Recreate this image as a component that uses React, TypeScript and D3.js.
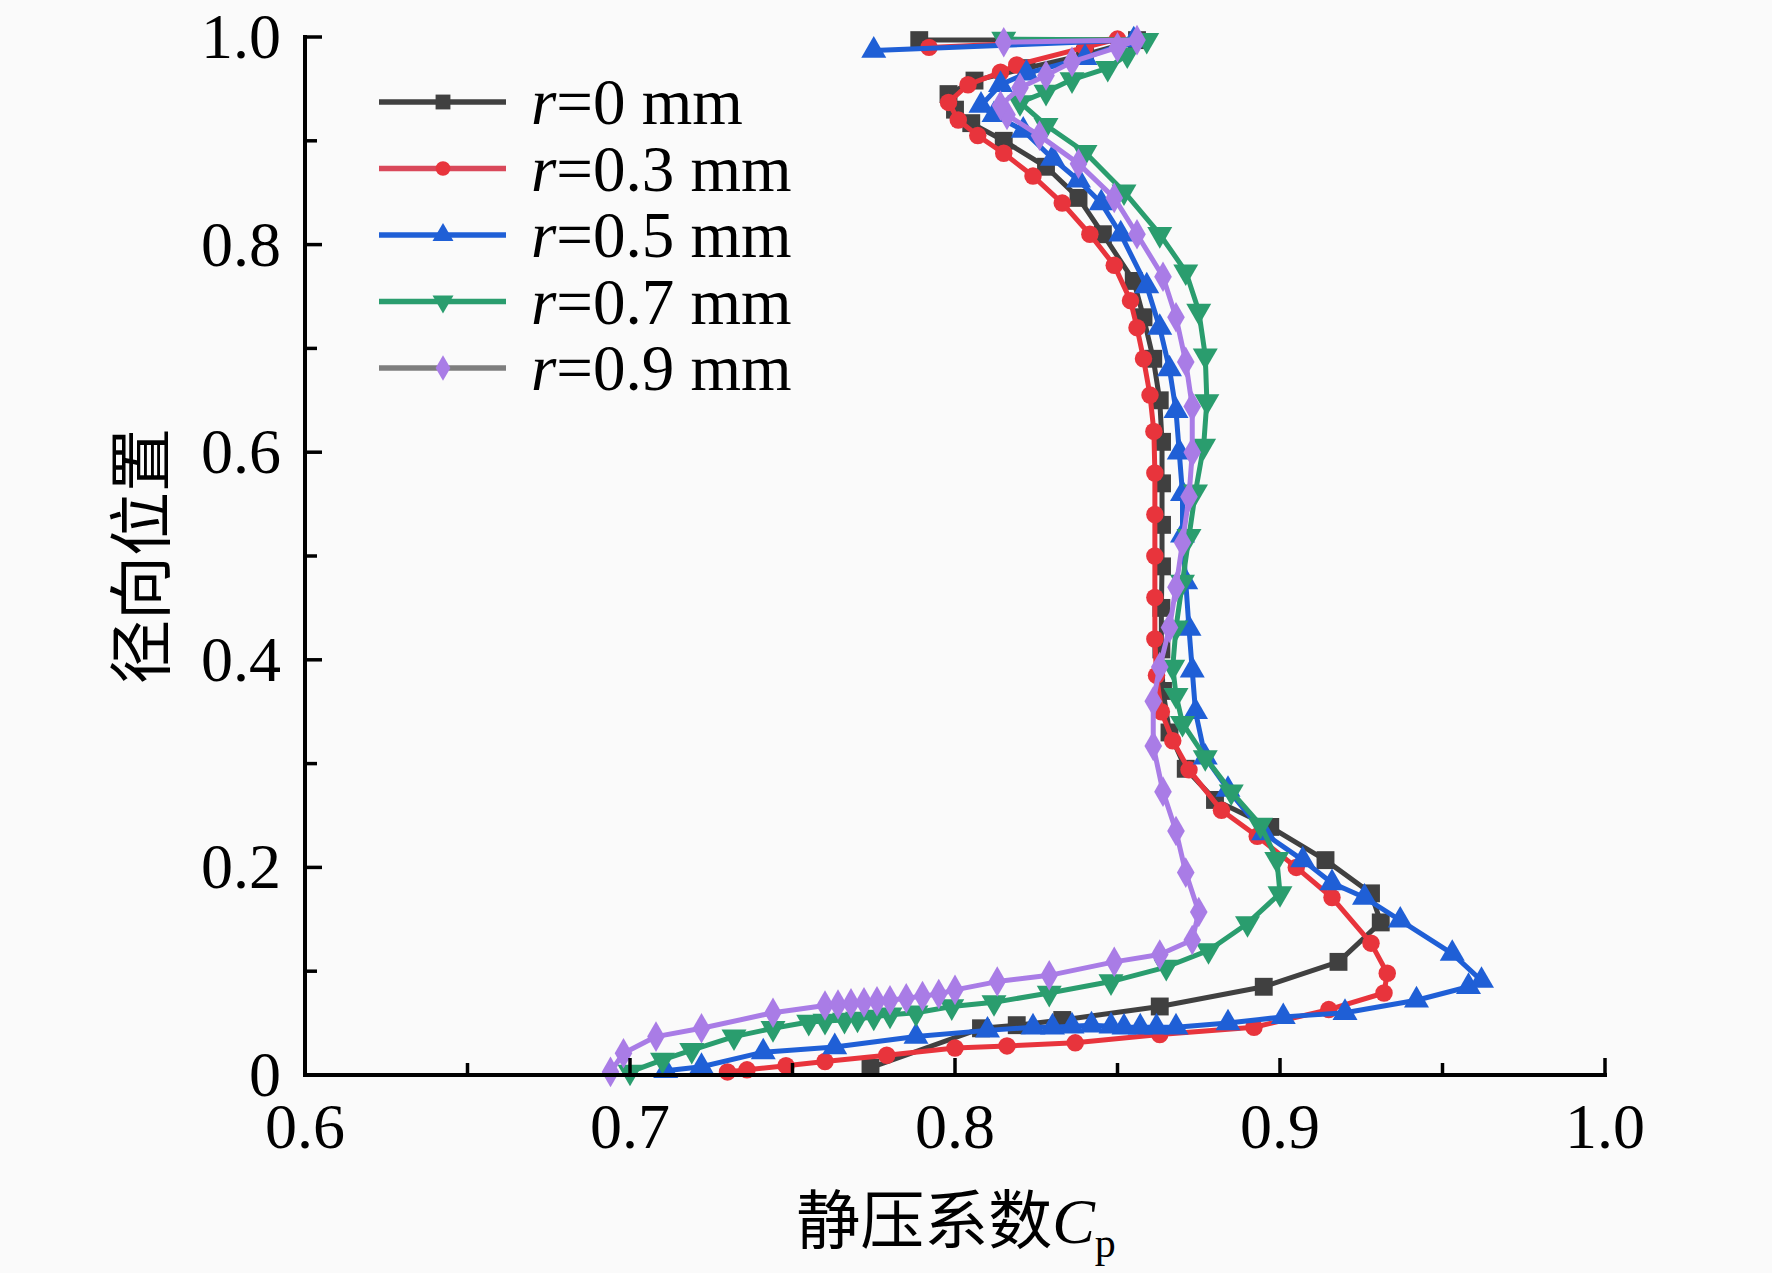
import React from "react";
import * as d3 from "d3";

const W = 1772;
const H = 1273;

const seriesNames = ["0", "0.3", "0.5", "0.7", "0.9"];
const seriesColors = ["#404040", "#E8343C", "#1F5FD6", "#2A9D6E", "#A97CE6"];
const legendLineColors = ["#404040", "#D9485A", "#1F5FD6", "#2A9D6E", "#7E7E7E"];

const xTicks = [0.6, 0.7, 0.8, 0.9, 1.0];
const xTickLabels = ["0.6", "0.7", "0.8", "0.9", "1.0"];
const xMinor = [0.65, 0.75, 0.85, 0.95];
const yTicks = [0, 0.2, 0.4, 0.6, 0.8, 1.0];
const yTickLabels = ["0", "0.2", "0.4", "0.6", "0.8", "1.0"];
const yMinor = [0.1, 0.3, 0.5, 0.7, 0.9];

// [Cp, radial position]
const r0: [number, number][] = [
  [0.774, 0.007], [0.808, 0.045], [0.819, 0.048], [0.833, 0.053], [0.863, 0.066],
  [0.895, 0.085], [0.918, 0.109], [0.931, 0.147], [0.928, 0.175], [0.914, 0.207],
  [0.897, 0.239], [0.88, 0.265], [0.871, 0.295], [0.866, 0.33], [0.864, 0.37],
  [0.8635, 0.41], [0.8635, 0.45], [0.8637, 0.49], [0.8637, 0.53], [0.8637, 0.57],
  [0.8637, 0.61], [0.863, 0.65], [0.861, 0.69], [0.858, 0.73], [0.855, 0.765],
  [0.8455, 0.81], [0.838, 0.845], [0.828, 0.875], [0.815, 0.9], [0.805, 0.917],
  [0.8, 0.93], [0.798, 0.945], [0.806, 0.958], [0.822, 0.97], [0.84, 0.983],
  [0.856, 0.997], [0.789, 0.997],
];

const r03: [number, number][] = [
  [0.73, 0.003], [0.736, 0.005], [0.748, 0.009], [0.76, 0.013], [0.779, 0.019], [0.8, 0.026],
  [0.816, 0.028], [0.837, 0.031], [0.863, 0.039], [0.892, 0.046], [0.915, 0.063],
  [0.932, 0.079], [0.933, 0.098], [0.928, 0.127], [0.916, 0.171], [0.905, 0.2],
  [0.893, 0.23], [0.882, 0.255], [0.872, 0.294], [0.867, 0.322], [0.8635, 0.35],
  [0.862, 0.385], [0.8615, 0.42], [0.8615, 0.46], [0.8615, 0.5], [0.8615, 0.54],
  [0.8615, 0.58], [0.8612, 0.62], [0.86, 0.655], [0.858, 0.69], [0.856, 0.72],
  [0.854, 0.746], [0.849, 0.78], [0.8415, 0.81], [0.833, 0.84], [0.824, 0.866],
  [0.815, 0.888], [0.807, 0.905], [0.801, 0.92], [0.798, 0.937], [0.804, 0.954],
  [0.814, 0.966], [0.819, 0.973], [0.84, 0.99], [0.85, 0.998], [0.792, 0.99],
];

const r05: [number, number][] = [
  [0.711, 0.004], [0.722, 0.008], [0.741, 0.022], [0.763, 0.027], [0.788, 0.037],
  [0.81, 0.043], [0.824, 0.046], [0.83, 0.046], [0.836, 0.047], [0.842, 0.048],
  [0.848, 0.047], [0.852, 0.046], [0.857, 0.046], [0.862, 0.046], [0.868, 0.046],
  [0.884, 0.05], [0.901, 0.056], [0.92, 0.06], [0.942, 0.072], [0.958, 0.085],
  [0.962, 0.091], [0.953, 0.117], [0.937, 0.149], [0.926, 0.171], [0.916, 0.185],
  [0.907, 0.207], [0.895, 0.233], [0.884, 0.275], [0.877, 0.306], [0.874, 0.35],
  [0.873, 0.39], [0.872, 0.43], [0.871, 0.475], [0.87, 0.52], [0.87, 0.56],
  [0.869, 0.6], [0.868, 0.64], [0.866, 0.68], [0.863, 0.72], [0.859, 0.76],
  [0.851, 0.81], [0.845, 0.84], [0.838, 0.862], [0.83, 0.883], [0.821, 0.91],
  [0.812, 0.925], [0.808, 0.934], [0.814, 0.954], [0.822, 0.965], [0.84, 0.98],
  [0.855, 0.997], [0.775, 0.987],
];

const r07: [number, number][] = [
  [0.7, 0.003], [0.71, 0.0145], [0.719, 0.024], [0.732, 0.037], [0.744, 0.045],
  [0.755, 0.051], [0.76, 0.052], [0.766, 0.053], [0.77, 0.054], [0.775, 0.056],
  [0.78, 0.058], [0.788, 0.06], [0.799, 0.066],
  [0.812, 0.07], [0.829, 0.079], [0.848, 0.09], [0.865, 0.104], [0.878, 0.12],
  [0.89, 0.146], [0.9, 0.175], [0.899, 0.208], [0.894, 0.241], [0.885, 0.273],
  [0.877, 0.306], [0.87, 0.339], [0.868, 0.366], [0.867, 0.393], [0.868, 0.431],
  [0.87, 0.475], [0.872, 0.519], [0.874, 0.562], [0.8765, 0.606], [0.8775, 0.649],
  [0.877, 0.693], [0.875, 0.736], [0.871, 0.774], [0.863, 0.81], [0.852, 0.851],
  [0.84, 0.889], [0.828, 0.915], [0.82, 0.937], [0.828, 0.947], [0.836, 0.959],
  [0.847, 0.97], [0.853, 0.983], [0.859, 0.997], [0.815, 0.998],
];

const r09: [number, number][] = [
  [0.694, 0.003], [0.698, 0.021], [0.708, 0.037], [0.722, 0.045], [0.744, 0.06],
  [0.76, 0.067], [0.764, 0.068], [0.768, 0.069], [0.772, 0.07], [0.776, 0.071],
  [0.78, 0.072], [0.785, 0.074], [0.79, 0.076], [0.795, 0.078], [0.8, 0.082],
  [0.813, 0.09], [0.829, 0.096], [0.849, 0.109], [0.863, 0.116], [0.873, 0.13],
  [0.875, 0.157], [0.871, 0.195], [0.868, 0.235], [0.864, 0.273], [0.861, 0.317],
  [0.861, 0.36], [0.863, 0.393], [0.866, 0.431], [0.868, 0.47], [0.87, 0.513],
  [0.872, 0.557], [0.873, 0.6], [0.873, 0.644], [0.871, 0.687], [0.868, 0.73],
  [0.864, 0.769], [0.856, 0.81], [0.849, 0.845], [0.838, 0.878], [0.826, 0.905],
  [0.816, 0.925], [0.814, 0.934], [0.82, 0.951], [0.828, 0.963], [0.836, 0.976],
  [0.85, 0.99], [0.856, 0.997], [0.815, 0.995],
];

const seriesData = [r0, r03, r05, r07, r09];

const symbols = [
  { type: d3.symbolSquare, size: 320, rot: 0 },
  { type: d3.symbolCircle, size: 240, rot: 0 },
  { type: d3.symbolTriangle, size: 270, rot: 0 },
  { type: d3.symbolTriangle, size: 270, rot: 180 },
  { type: d3.symbolDiamond, size: 270, rot: 0 },
];
const legendSymbolSizes = [220, 170, 190, 190, 190];

const serif = "'Liberation Serif', 'Times New Roman', serif";
const cjk = "'Noto Sans CJK SC', sans-serif";

export default function App() {
  const x = d3.scaleLinear().domain([0.6, 1.0]).range([305, 1605]);
  const y = d3.scaleLinear().domain([0, 1]).range([1075, 37]);
  const line = d3
    .line<[number, number]>()
    .x((d) => x(d[0]))
    .y((d) => y(d[1]));

  const symPaths = symbols.map((s) => d3.symbol().type(s.type).size(s.size)()!);
  const legendPaths = symbols.map((s, i) => d3.symbol().type(s.type).size(legendSymbolSizes[i])()!);

  const legendY0 = 102;
  const legendDy = 66.5;

  return (
    <svg
      width={W}
      height={H}
      viewBox={`0 0 ${W} ${H}`}
      style={{ position: "absolute", left: 0, top: 0, display: "block" }}
    >
      <rect x={0} y={0} width={W} height={H} fill="#fafafa" />

      {/* series */}
      {seriesData.map((data, i) => (
        <g key={i}>
          <path d={line(data)!} fill="none" stroke={seriesColors[i]} strokeWidth={5} strokeLinejoin="round" />
          {data.map((d, j) => (
            <path
              key={j}
              d={symPaths[i]}
              fill={seriesColors[i]}
              transform={`translate(${x(d[0])},${y(d[1])}) rotate(${symbols[i].rot})`}
            />
          ))}
        </g>
      ))}

      {/* axes */}
      <line x1={x(0.6)} x2={x(1.0)} y1={y(0)} y2={y(0)} stroke="#000" strokeWidth={4} strokeLinecap="square" />
      <line x1={x(0.6)} x2={x(0.6)} y1={y(0)} y2={y(1)} stroke="#000" strokeWidth={4} strokeLinecap="square" />
      {xTicks.map((t) => (
        <line key={"xt" + t} x1={x(t)} x2={x(t)} y1={y(0)} y2={y(0) - 17} stroke="#000" strokeWidth={3.5} />
      ))}
      {xMinor.map((t) => (
        <line key={"xm" + t} x1={x(t)} x2={x(t)} y1={y(0)} y2={y(0) - 12} stroke="#000" strokeWidth={3.5} />
      ))}
      {yTicks.map((t) => (
        <line key={"yt" + t} x1={x(0.6)} x2={x(0.6) + 17} y1={y(t)} y2={y(t)} stroke="#000" strokeWidth={3.5} />
      ))}
      {yMinor.map((t) => (
        <line key={"ym" + t} x1={x(0.6)} x2={x(0.6) + 12} y1={y(t)} y2={y(t)} stroke="#000" strokeWidth={3.5} />
      ))}
      {xTicks.map((t, i) => (
        <text key={"xl" + t} x={x(t)} y={1148} textAnchor="middle" fontFamily={serif} fontSize={64} fill="#000">
          {xTickLabels[i]}
        </text>
      ))}
      {yTicks.map((t, i) => (
        <text key={"yl" + t} x={281} y={y(t) + 21} textAnchor="end" fontFamily={serif} fontSize={64} fill="#000">
          {yTickLabels[i]}
        </text>
      ))}

      {/* axis titles */}
      <text x={956} y={1243} textAnchor="middle" fontSize={64} fill="#000">
        <tspan fontFamily={cjk}>静压系数</tspan>
        <tspan fontFamily={serif} fontStyle="italic">C</tspan>
        <tspan fontFamily={serif} fontSize={42} dy={14}>p</tspan>
      </text>
      <text
        transform={`translate(136,556) rotate(-90)`}
        textAnchor="middle"
        dominantBaseline="central"
        fontFamily={cjk}
        fontSize={64}
        fill="#000"
      >
        径向位置
      </text>

      {/* legend */}
      {seriesNames.map((n, i) => {
        const ly = legendY0 + i * legendDy;
        return (
          <g key={"lg" + i}>
            <line x1={379} x2={506} y1={ly} y2={ly} stroke={legendLineColors[i]} strokeWidth={5.5} />
            <path d={legendPaths[i]} fill={seriesColors[i]} transform={`translate(443,${ly}) rotate(${symbols[i].rot})`} />
            <text x={531} y={ly + 22} fontFamily={serif} fontSize={65} fill="#000">
              <tspan fontStyle="italic">r</tspan>
              <tspan>={n} mm</tspan>
            </text>
          </g>
        );
      })}
    </svg>
  );
}
